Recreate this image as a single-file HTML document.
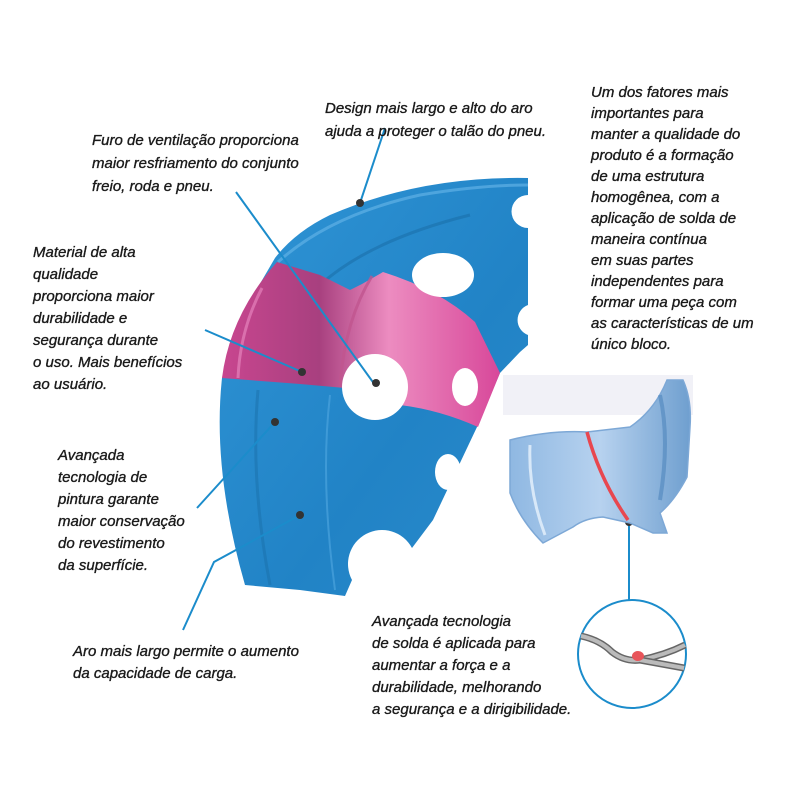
<!DOCTYPE html>
<html><head><meta charset="utf-8"><style>
html,body{margin:0;padding:0;background:#fff;}
svg{display:block;}
text{font-family:"Liberation Sans",sans-serif;font-style:italic;font-size:15px;fill:#1a1a1a;stroke:#1a1a1a;stroke-width:0.35;}
</style></head><body>
<svg width="800" height="800" viewBox="0 0 800 800" xmlns="http://www.w3.org/2000/svg">
<defs>
<linearGradient id="bl" x1="0" y1="0" x2="1" y2="1">
<stop offset="0" stop-color="#3095d6"/><stop offset="0.6" stop-color="#2183c6"/><stop offset="1" stop-color="#2b8bcb"/>
</linearGradient>
<linearGradient id="pk" x1="0" y1="0" x2="1" y2="0">
<stop offset="0" stop-color="#c8468f"/><stop offset="0.35" stop-color="#a8407f"/><stop offset="0.6" stop-color="#ec8cc0"/><stop offset="1" stop-color="#d8489a"/>
</linearGradient>
<linearGradient id="tb" x1="0" y1="0" x2="1" y2="0">
<stop offset="0" stop-color="#8fb8e2"/><stop offset="0.5" stop-color="#b7d2ef"/><stop offset="1" stop-color="#6f9fcf"/>
</linearGradient>
</defs>

<rect x="503" y="375" width="190" height="40" fill="#f1f1f7"/>

<!-- wheel body -->
<path d="M528,178 Q420,176 330,215 Q295,232 275,258 L240,318 L222,378 Q212,470 245,585 L300,590 L345,596 L352,580 A32,32 0 0 1 412,548 L433,520 L477,427 L500,373 L520,352 L528,345 L528,335 A16,16 0 0 1 528,305 L528,228 A15,15 0 0 1 528,195 Z" fill="url(#bl)"/>
<path d="M278,262 Q330,215 420,195 Q480,185 528,185" fill="none" stroke="#5fb0e6" stroke-width="3" opacity="0.7"/>
<path d="M320,285 Q370,240 470,215" fill="none" stroke="#1a6faa" stroke-width="3" opacity="0.6"/>
<path d="M258,390 Q250,480 270,585" fill="none" stroke="#1a6faa" stroke-width="3" opacity="0.5"/>
<path d="M330,395 Q320,480 335,590" fill="none" stroke="#4aa2dd" stroke-width="2" opacity="0.7"/>
<!-- pink band -->
<path d="M222,378 Q230,315 277,262 L320,275 L350,290 L362,284 L383,272 Q440,290 475,322 L500,373 L478,427 Q440,410 400,405 L345,388 L300,384 Z" fill="url(#pk)"/>
<path d="M262,288 Q240,330 238,378" fill="none" stroke="#e07ab5" stroke-width="3" opacity="0.8"/>
<path d="M372,276 Q345,320 340,385" fill="none" stroke="#c0558f" stroke-width="3" opacity="0.8"/>
<circle cx="375" cy="387" r="33" fill="#fff"/>
<ellipse cx="443" cy="275" rx="31" ry="22" fill="#fff"/>
<ellipse cx="465" cy="387" rx="13" ry="19" fill="#fff"/>
<ellipse cx="448" cy="472" rx="13" ry="18" fill="#fff"/>

<g stroke="#1b8ccb" stroke-width="2" fill="none">
<path d="M385,128 L360,203"/>
<path d="M236,192 L375,385"/>
<path d="M205,330 L302,372"/>
<path d="M197,508 L275,422"/>
<path d="M183,630 L214,562 L300,515"/>
<path d="M629,522 L629,600"/>
</g>
<g fill="#333">
<circle cx="360" cy="203" r="4"/><circle cx="376" cy="383" r="4"/><circle cx="302" cy="372" r="4"/>
<circle cx="275" cy="422" r="4"/><circle cx="300" cy="515" r="4"/><circle cx="629" cy="522" r="4"/>
</g>

<path d="M510,440 Q550,430 587,432 L630,427 Q655,410 667,380 L683,380 Q692,400 690,427 L687,477 Q675,500 660,513 L667,533 L653,533 L630,523 L603,517 Q585,518 573,527 L543,543 Q520,520 510,493 Z" fill="url(#tb)" stroke="#7da8d6" stroke-width="1.5"/>
<path d="M530,445 Q528,490 545,535" fill="none" stroke="#d8e8f8" stroke-width="3"/>
<path d="M660,395 Q670,440 660,500" fill="none" stroke="#4f86bd" stroke-width="4" opacity="0.6"/>
<path d="M587,432 Q600,480 628,520" fill="none" stroke="#e8474f" stroke-width="3.5"/>

<circle cx="632" cy="654" r="54" fill="#fff" stroke="#1b8ccb" stroke-width="2"/>
<path d="M581,636 Q600,640 612,652 Q625,662 640,660 Q665,655 685,645" fill="none" stroke="#666" stroke-width="7"/>
<path d="M581,636 Q600,640 612,652 Q625,662 640,660 Q665,655 685,645" fill="none" stroke="#bbb" stroke-width="4"/>
<path d="M640,660 Q662,664 684,668" fill="none" stroke="#666" stroke-width="7"/>
<path d="M640,660 Q662,664 684,668" fill="none" stroke="#bbb" stroke-width="4"/>
<ellipse cx="638" cy="656" rx="6" ry="5" fill="#e8555a"/>

<text x="325" y="113">Design mais largo e alto do aro</text>
<text x="325" y="136">ajuda a proteger o talão do pneu.</text>

<text x="92" y="145">Furo de ventilação proporciona</text>
<text x="92" y="168">maior resfriamento do conjunto</text>
<text x="92" y="191">freio, roda e pneu.</text>

<text x="33" y="257">Material de alta</text>
<text x="33" y="279">qualidade</text>
<text x="33" y="301">proporciona maior</text>
<text x="33" y="323">durabilidade e</text>
<text x="33" y="345">segurança durante</text>
<text x="33" y="367">o uso. Mais benefícios</text>
<text x="33" y="389">ao usuário.</text>

<text x="591" y="97">Um dos fatores mais</text>
<text x="591" y="118">importantes para</text>
<text x="591" y="139">manter a qualidade do</text>
<text x="591" y="160">produto é a formação</text>
<text x="591" y="181">de uma estrutura</text>
<text x="591" y="202">homogênea, com a</text>
<text x="591" y="223">aplicação de solda de</text>
<text x="591" y="244">maneira contínua</text>
<text x="591" y="265">em suas partes</text>
<text x="591" y="286">independentes para</text>
<text x="591" y="307">formar uma peça com</text>
<text x="591" y="328">as características de um</text>
<text x="591" y="349">único bloco.</text>

<text x="58" y="460">Avançada</text>
<text x="58" y="482">tecnologia de</text>
<text x="58" y="504">pintura garante</text>
<text x="58" y="526">maior conservação</text>
<text x="58" y="548">do revestimento</text>
<text x="58" y="570">da superfície.</text>

<text x="73" y="656">Aro mais largo permite o aumento</text>
<text x="73" y="678">da capacidade de carga.</text>

<text x="372" y="626">Avançada tecnologia</text>
<text x="372" y="648">de solda é aplicada para</text>
<text x="372" y="670">aumentar a força e a</text>
<text x="372" y="692">durabilidade, melhorando</text>
<text x="372" y="714">a segurança e a dirigibilidade.</text>
</svg>
</body></html>
